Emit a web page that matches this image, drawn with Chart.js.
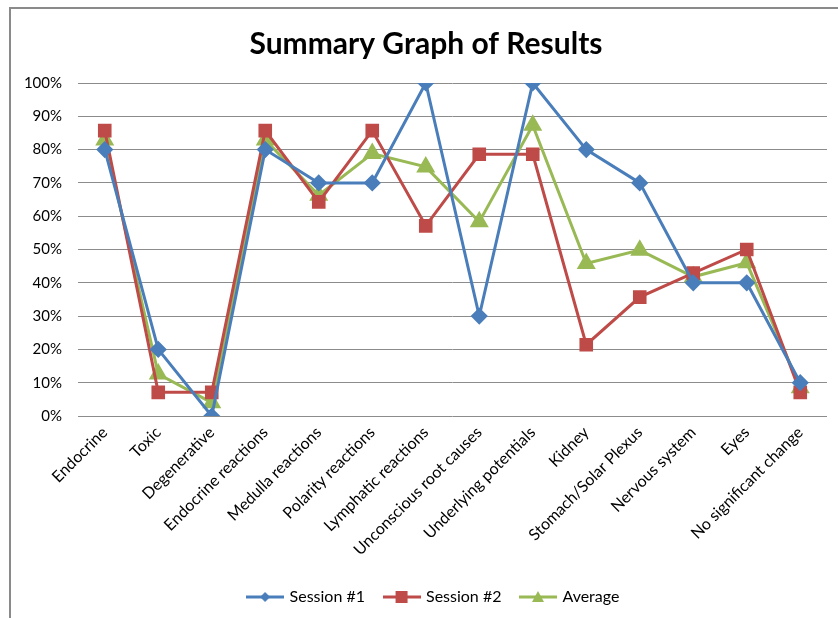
<!DOCTYPE html>
<html>
<head>
<meta charset="utf-8">
<script src="https://cdn.jsdelivr.net/npm/chart.js@4.4.0/dist/chart.umd.min.js"></script>
<style>
  html, body { margin: 0; padding: 0; background: #ffffff; }
  #wrap { position: relative; width: 838px; height: 618px; }
  canvas { display: block; }
</style>
</head>
<body>
<div id="wrap"><canvas id="c" width="838" height="618"></canvas></div>
<script>
const categories = ["Endocrine", "Toxic", "Degenerative", "Endocrine reactions", "Medulla reactions",
  "Polarity reactions", "Lymphatic reactions", "Unconscious root causes", "Underlying potentials",
  "Kidney", "Stomach/Solar Plexus", "Nervous system", "Eyes", "No significant change"];
const session1 = [80, 20, 0, 80, 70, 70, 100, 30, 100, 80, 70, 40, 40, 10];
const session2 = [85.7, 7.1, 7.1, 85.7, 64.3, 85.7, 57.1, 78.6, 78.6, 21.4, 35.7, 42.9, 50, 7.1];
const average  = [82.9, 12.6, 4, 82.9, 66.3, 78.8, 74.8, 58.3, 87.3, 45.8, 49.8, 41.8, 46, 8.5];
const yTicks = [0, 10, 20, 30, 40, 50, 60, 70, 80, 90, 100];
const seriesNames = ["Session #1", "Session #2", "Average"];

const BLUE = '#4A7EBB', RED = '#BE4B48', GREEN = '#98B954';
const FONT = 'Lato, "Open Sans", sans-serif';

function legendIcon(color, shape) {
  const cv = document.createElement('canvas');
  cv.width = 38; cv.height = 14;
  const g = cv.getContext('2d');
  g.strokeStyle = color; g.lineWidth = 3;
  g.beginPath(); g.moveTo(0, 7); g.lineTo(38, 7); g.stroke();
  g.fillStyle = color;
  g.beginPath();
  if (shape === 'diamond') { g.moveTo(19, 2); g.lineTo(24, 7); g.lineTo(19, 12); g.lineTo(14, 7); }
  else if (shape === 'square') { g.rect(13, 1, 12, 12); }
  else { g.moveTo(19, 1); g.lineTo(25, 12); g.lineTo(13, 12); }
  g.closePath(); g.fill();
  return cv;
}
const icons = [legendIcon(BLUE, 'diamond'), legendIcon(RED, 'square'), legendIcon(GREEN, 'triangle')];

const framePlugin = {
  id: 'frame',
  afterLayout(chart) {
    if (chart.legend) { chart.legend.left += 8; chart.legend.right += 8; }
  },
  beforeDraw(chart) {
    const ctx = chart.ctx;
    ctx.save();
    ctx.strokeStyle = '#8a8a8a';
    ctx.lineWidth = 2;
    ctx.beginPath();
    ctx.moveTo(10, 618); ctx.lineTo(10, 8); ctx.lineTo(838, 8);
    ctx.stroke();
    ctx.restore();
  }
};

new Chart(document.getElementById('c'), {
  type: 'line',
  data: {
    labels: categories,
    datasets: [
      { label: seriesNames[0], data: session1, borderColor: BLUE, backgroundColor: BLUE, borderWidth: 3,
        pointStyle: 'rectRot', pointRadius: 6.5, pointHoverRadius: 6.5, tension: 0 },
      { label: seriesNames[1], data: session2, borderColor: RED, backgroundColor: RED, borderWidth: 3,
        pointStyle: 'rect', pointRadius: 7.5, pointHoverRadius: 7.5, tension: 0 },
      { label: seriesNames[2], data: average, borderColor: GREEN, backgroundColor: GREEN, borderWidth: 3,
        pointStyle: 'triangle', pointRadius: 8, pointHoverRadius: 8, tension: 0 }
    ]
  },
  options: {
    responsive: false,
    animation: false,
    devicePixelRatio: 1,
    layout: { padding: { left: 20, right: 6, top: 0, bottom: 3 } },
    plugins: {
      title: {
        display: true,
        text: 'Summary Graph of Results',
        color: '#000000',
        font: { family: FONT, size: 30, weight: 'bold' },
        padding: { top: 26, bottom: 21 }
      },
      legend: {
        position: 'bottom',
        labels: {
          color: '#000000',
          font: { family: FONT, size: 16 },
          usePointStyle: true,
          pointStyleWidth: 33,
          padding: 20,
          generateLabels(chart) {
            return chart.data.datasets.map((ds, i) => ({
              text: ds.label, pointStyle: icons[i], datasetIndex: i,
              fillStyle: ds.borderColor, strokeStyle: ds.borderColor, lineWidth: 0, fontColor: '#000'
            }));
          }
        }
      },
      tooltip: { enabled: false }
    },
    scales: {
      x: {
        offset: true,
        grid: { display: false, drawTicks: false },
        border: { display: false },
        ticks: { color: '#000000', font: { family: FONT, size: 16 }, maxRotation: 45, minRotation: 45, padding: 7, autoSkip: false },
        afterFit(scale) { scale.height = 153; }
      },
      y: {
        min: 0, max: 100,
        afterBuildTicks(scale) { scale.ticks = yTicks.map(v => ({ value: v })); },
        grid: { color: '#8c8c8c', lineWidth: 1, drawTicks: false },
        border: { display: false },
        ticks: { color: '#000000', font: { family: FONT, size: 15 }, padding: 16, callback: v => v + '%' },
        afterFit(scale) { scale.width = 58; }
      }
    }
  },
  plugins: [framePlugin]
});
</script>
</body>
</html>
